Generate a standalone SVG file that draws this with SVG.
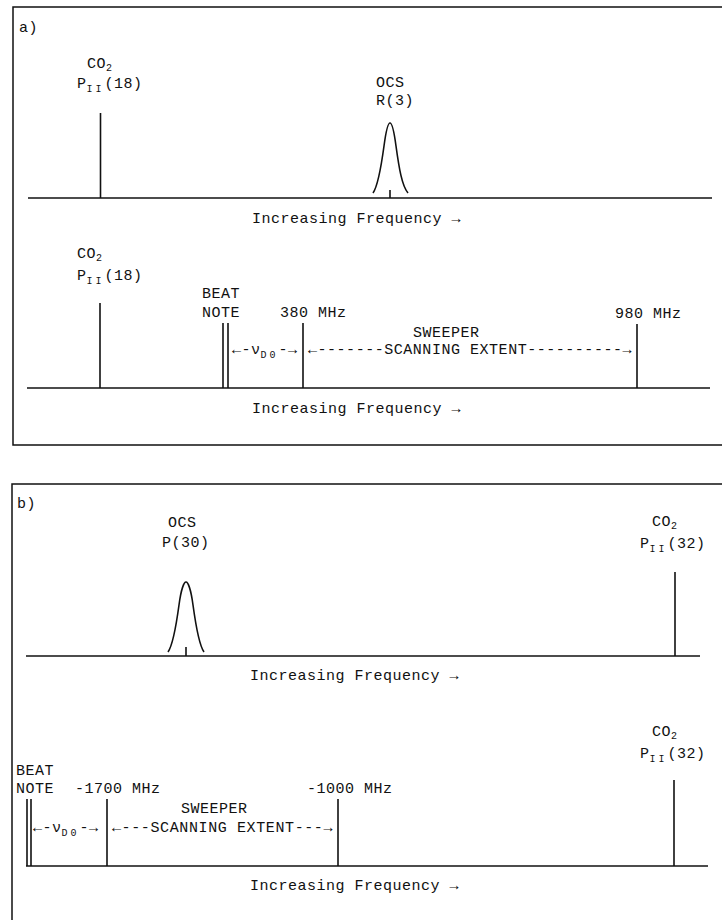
<svg xmlns="http://www.w3.org/2000/svg" width="722" height="920" viewBox="0 0 722 920">
<style>
text{font-family:"Liberation Mono","DejaVu Sans Mono",monospace;font-size:15px;letter-spacing:0.5px;fill:#111}
.sub{font-size:10px}
.ln{stroke:#111;stroke-width:1.6;fill:none}
.ax{stroke:#111;stroke-width:1.6;fill:none}
.bx{stroke:#111;stroke-width:1.5;fill:none}
</style>
<rect width="722" height="920" fill="#fff"/>
<g id="frames">
<path class="bx" d="M722,7 H13 V445 H722"/>
<path class="bx" d="M722,484 H12 V920"/>
</g>
<g id="panel-labels">
<text x="19" y="32">a)</text>
<text x="17" y="508">b)</text>
</g>
<g id="connectors">
<line class="ax" x1="28" y1="198" x2="712" y2="198"/>
<line class="ax" x1="27" y1="388" x2="710" y2="388"/>
<line class="ax" x1="26" y1="656" x2="700" y2="656"/>
<line class="ax" x1="26" y1="866" x2="708" y2="866"/>
</g>
<g id="a-co2">
<line class="ln" x1="100.5" y1="113" x2="100.5" y2="198"/>
<text x="87" y="68">CO<tspan class="sub" dy="3">2</tspan></text>
<text x="77" y="88">P<tspan class="sub" dy="4" letter-spacing="3">II</tspan><tspan dy="-4">(18)</tspan></text>
</g>
<g id="a-ocs">
<path class="ln" d="M373,193 C378,186 381,168 384,146 C386,131 388,123 390,123 C392,123 394,131 396,146 C399,168 402,186 408,193"/>
<line class="ln" x1="390" y1="190" x2="390" y2="198"/>
<text x="376" y="87">OCS</text>
<text x="376" y="105">R(3)</text>
</g>
<text id="a-freq1" x="252" y="223">Increasing Frequency →</text>
<g id="a2-co2">
<line class="ln" x1="100" y1="303" x2="100" y2="388"/>
<text x="77" y="258">CO<tspan class="sub" dy="3">2</tspan></text>
<text x="77" y="280">P<tspan class="sub" dy="4" letter-spacing="3">II</tspan><tspan dy="-4">(18)</tspan></text>
</g>
<g id="a2-beat">
<line class="ln" x1="223" y1="323" x2="223" y2="388"/>
<line class="ln" x1="228" y1="323" x2="228" y2="388"/>
<text x="202" y="298">BEAT</text>
<text x="202" y="317">NOTE</text>
</g>
<g id="a2-380">
<line class="ln" x1="303" y1="323" x2="303" y2="388"/>
<text x="280" y="317">380 MHz</text>
</g>
<g id="a2-980">
<line class="ln" x1="637" y1="324" x2="637" y2="388"/>
<text x="615" y="318">980 MHz</text>
</g>
<g id="a2-arrows">
<text x="232" y="354">←-ν<tspan class="sub" dy="4" letter-spacing="3">D0</tspan><tspan dy="-4">-→</tspan></text>
<text x="413" y="337">SWEEPER</text>
<text x="308" y="354" textLength="324" lengthAdjust="spacing">←-------SCANNING EXTENT----------→</text>
</g>
<text id="a-freq2" x="252" y="413">Increasing Frequency →</text>
<g id="b-ocs">
<path class="ln" d="M168,652 C173,645 176,627 179,605 C181,590 184,582 186,582 C188,582 191,590 193,605 C196,627 199,645 204,652"/>
<line class="ln" x1="186" y1="647" x2="186" y2="656"/>
<text x="168" y="527">OCS</text>
<text x="162" y="547">P(30)</text>
</g>
<g id="b-co2">
<line class="ln" x1="675" y1="572" x2="675" y2="656"/>
<text x="652" y="526">CO<tspan class="sub" dy="3">2</tspan></text>
<text x="640" y="548">P<tspan class="sub" dy="4" letter-spacing="3">II</tspan><tspan dy="-4">(32)</tspan></text>
</g>
<text id="b-freq1" x="250" y="680">Increasing Frequency →</text>
<g id="b2-beat">
<line class="ln" x1="27" y1="799" x2="27" y2="866"/>
<line class="ln" x1="31" y1="799" x2="31" y2="866"/>
<text x="16" y="775">BEAT</text>
<text x="16" y="793">NOTE</text>
</g>
<g id="b2-1700">
<line class="ln" x1="107" y1="799" x2="107" y2="866"/>
<text x="75" y="793">-1700 MHz</text>
</g>
<g id="b2-1000">
<line class="ln" x1="338" y1="799" x2="338" y2="866"/>
<text x="307" y="793">-1000 MHz</text>
</g>
<g id="b2-co2">
<line class="ln" x1="674" y1="780" x2="674" y2="866"/>
<text x="652" y="736">CO<tspan class="sub" dy="3">2</tspan></text>
<text x="640" y="758">P<tspan class="sub" dy="4" letter-spacing="3">II</tspan><tspan dy="-4">(32)</tspan></text>
</g>
<g id="b2-arrows">
<text x="33" y="832">←-ν<tspan class="sub" dy="4" letter-spacing="3">D0</tspan><tspan dy="-4">-→</tspan></text>
<text x="181" y="813">SWEEPER</text>
<text x="112" y="832" textLength="221" lengthAdjust="spacing">←---SCANNING EXTENT---→</text>
</g>
<text id="b-freq2" x="250" y="890">Increasing Frequency →</text>
</svg>
